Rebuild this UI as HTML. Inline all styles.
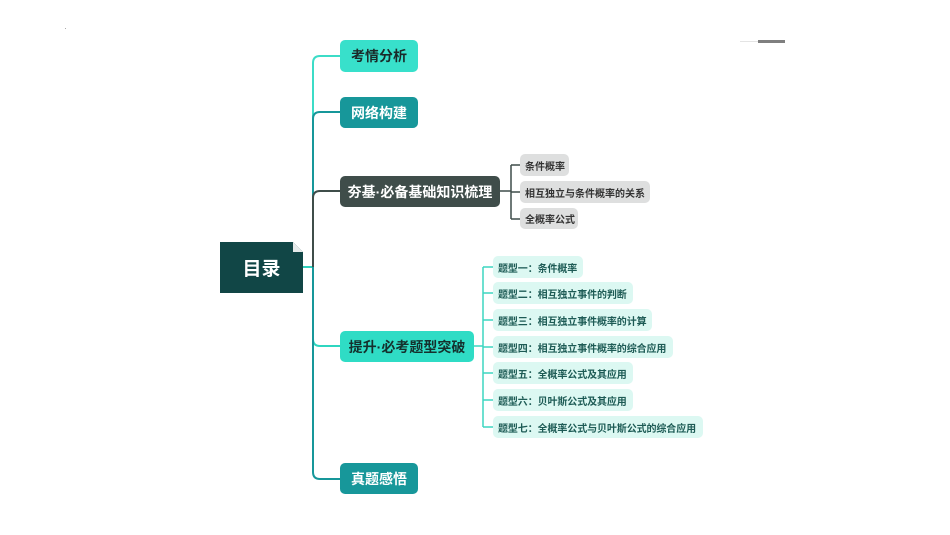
<!DOCTYPE html>
<html><head><meta charset="utf-8">
<style>
body{margin:0;width:950px;height:535px;background:#fff;position:relative;overflow:hidden;font-family:"Liberation Sans","Noto Sans CJK SC",sans-serif;}
.n{position:absolute;display:flex;align-items:center;justify-content:center;border-radius:5px;font-weight:bold;box-sizing:border-box;white-space:nowrap;}
.m{font-size:14px;}
.g{background:#dedfdf;color:#333;font-size:10px;border-radius:5px;padding-left:5px;justify-content:flex-start;}
.t{background:#dcf8f2;color:#1d5b55;font-size:10px;border-radius:5px;padding-left:5px;justify-content:flex-start;letter-spacing:-0.1px;}
</style></head><body>
<svg width="950" height="535" style="position:absolute;left:0;top:0" fill="none" stroke-width="2">
<path d="M303 267 H313" stroke="#2fd0bc"/>
<path d="M313 267 V63 Q313 56 320 56 H340" stroke="#3cdcc7"/>
<path d="M313 267 V119 Q313 112 320 112 H340" stroke="#17979a"/>
<path d="M313 267 V198 Q313 191 320 191 H340" stroke="#3f4d4a"/>
<path d="M313 267 V339 Q313 346 320 346 H340" stroke="#2fd6c0"/>
<path d="M313 267 V472 Q313 479 320 479 H340" stroke="#17979a"/>
<path d="M500 191 H511 M511 165 V219 M511 165 H520 M511 192 H520 M511 219 H520" stroke="#3f4d4a" stroke-width="1.5"/>
<path d="M474 346 H483 M483 267 V427 M483 267 H493 M483 293 H493 M483 320 H493 M483 347 H493 M483 373 H493 M483 400 H493 M483 427 H493" stroke="#3dd6c1" stroke-width="1.5"/>
<path d="M740 41.5 H758" stroke="#e4e4e4" stroke-width="1"/>
<path d="M758 41.5 H785" stroke="#7f7f7f" stroke-width="3"/>
<rect x="65" y="28" width="1" height="1" fill="#aaa" stroke="none"/>
</svg>
<div class="n" style="left:220px;top:242px;width:83px;height:51px;background:#114646;color:#fff;font-size:19px;border-radius:0;clip-path:polygon(0 0,73px 0,83px 10px,83px 51px,0 51px);">目录</div>
<svg width="12" height="12" style="position:absolute;left:293px;top:242px"><polygon points="0,0 10,10 0,10" fill="#e6eaea"/></svg>
<div class="n m" style="left:340px;top:40px;width:78px;height:32px;background:#38e0cb;color:#1a2a2a;">考情分析</div>
<div class="n m" style="left:340px;top:97px;width:78px;height:31px;background:#17979a;color:#fff;">网络构建</div>
<div class="n m" style="left:340px;top:176px;width:160px;height:31px;background:#3f4d4a;color:#fff;">夯基·必备基础知识梳理</div>
<div class="n m" style="left:340px;top:331px;width:134px;height:31px;background:#2fdcc5;color:#15302d;">提升·必考题型突破</div>
<div class="n m" style="left:340px;top:463px;width:78px;height:31px;background:#17979a;color:#fff;">真题感悟</div>
<div class="n g" style="left:520px;top:154px;width:49px;height:22px;">条件概率</div>
<div class="n g" style="left:520px;top:181px;width:130px;height:22px;">相互独立与条件概率的关系</div>
<div class="n g" style="left:520px;top:208px;width:58px;height:21px;">全概率公式</div>
<div class="n t" style="left:493px;top:256px;width:90px;height:22px;">题型一：条件概率</div>
<div class="n t" style="left:493px;top:282px;width:140px;height:22px;">题型二：相互独立事件的判断</div>
<div class="n t" style="left:493px;top:309px;width:159px;height:22px;">题型三：相互独立事件概率的计算</div>
<div class="n t" style="left:493px;top:336px;width:180px;height:22px;">题型四：相互独立事件概率的综合应用</div>
<div class="n t" style="left:493px;top:362px;width:140px;height:22px;">题型五：全概率公式及其应用</div>
<div class="n t" style="left:493px;top:389px;width:140px;height:22px;">题型六：贝叶斯公式及其应用</div>
<div class="n t" style="left:493px;top:416px;width:210px;height:22px;">题型七：全概率公式与贝叶斯公式的综合应用</div>
</body></html>
